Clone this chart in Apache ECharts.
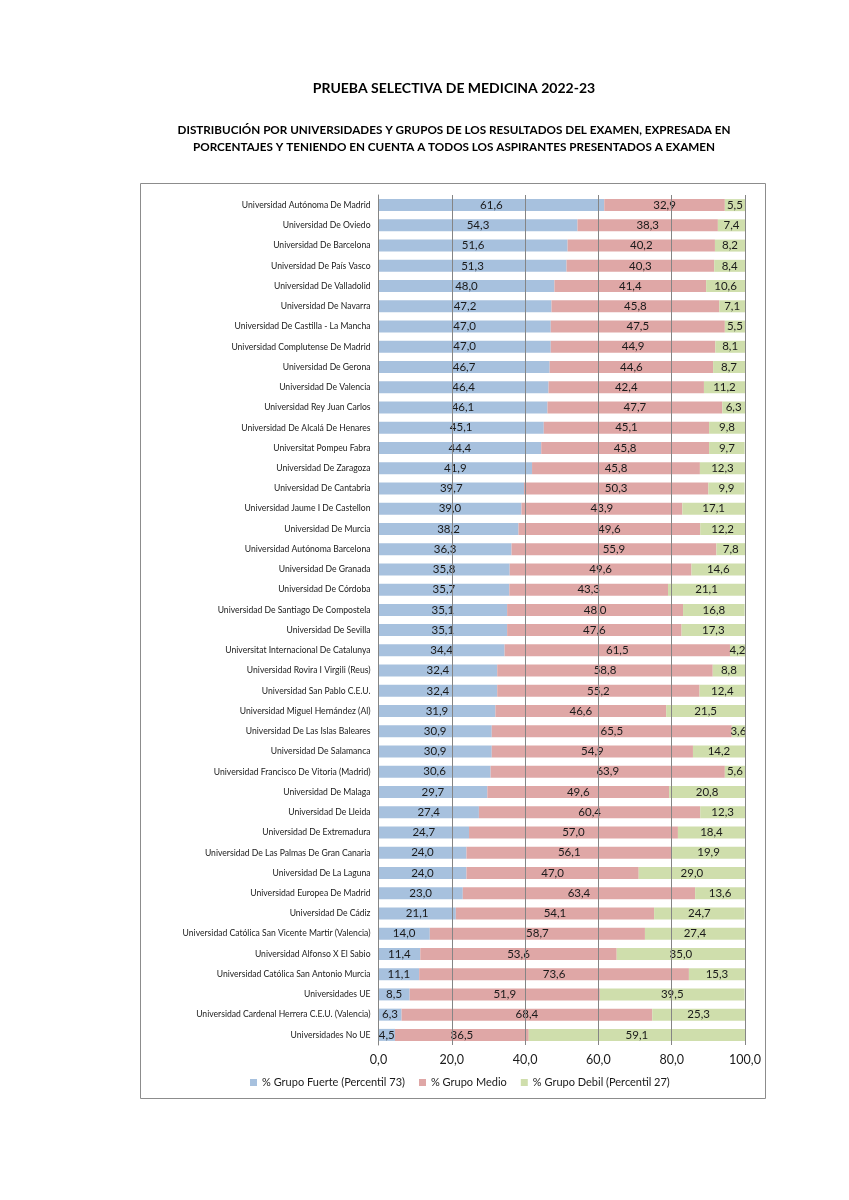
<!DOCTYPE html>
<html>
<head>
<meta charset="utf-8">
<script src="https://cdn.jsdelivr.net/npm/echarts@6/dist/echarts.min.js"></script>
<style>
html,body{margin:0;padding:0;background:#fff;}
#chart{width:849px;height:1200px;}
</style>
</head>
<body>
<div id="chart"></div>
<script>
const universidades = [
"Universidad Autónoma De Madrid","Universidad De Oviedo","Universidad De Barcelona","Universidad De País Vasco",
"Universidad De Valladolid","Universidad De Navarra","Universidad De Castilla - La Mancha","Universidad Complutense De Madrid",
"Universidad De Gerona","Universidad De Valencia","Universidad Rey Juan Carlos","Universidad De Alcalá De Henares",
"Universitat Pompeu Fabra","Universidad De Zaragoza","Universidad De Cantabria","Universidad Jaume I De Castellon",
"Universidad De Murcia","Universidad Autónoma Barcelona","Universidad De Granada","Universidad De Córdoba",
"Universidad De Santiago De Compostela","Universidad De Sevilla","Universitat Internacional De Catalunya","Universidad Rovira I Virgili (Reus)",
"Universidad San Pablo C.E.U.","Universidad Miguel Hernández (Al)","Universidad De Las Islas Baleares","Universidad De Salamanca",
"Universidad Francisco De Vitoria (Madrid)","Universidad De Malaga","Universidad De Lleida","Universidad De Extremadura",
"Universidad De Las Palmas De Gran Canaria","Universidad De La Laguna","Universidad Europea De Madrid","Universidad De Cádiz",
"Universidad Católica San Vicente Martir (Valencia)","Universidad Alfonso X El Sabio","Universidad Católica San Antonio Murcia","Universidades UE",
"Universidad Cardenal Herrera C.E.U. (Valencia)","Universidades No UE"
];
const grupoFuerte = [61.6,54.3,51.6,51.3,48.0,47.2,47.0,47.0,46.7,46.4,46.1,45.1,44.4,41.9,39.7,39.0,38.2,36.3,35.8,35.7,35.1,35.1,34.4,32.4,32.4,31.9,30.9,30.9,30.6,29.7,27.4,24.7,24.0,24.0,23.0,21.1,14.0,11.4,11.1,8.5,6.3,4.5];
const grupoMedio = [32.9,38.3,40.2,40.3,41.4,45.8,47.5,44.9,44.6,42.4,47.7,45.1,45.8,45.8,50.3,43.9,49.6,55.9,49.6,43.3,48.0,47.6,61.5,58.8,55.2,46.6,65.5,54.9,63.9,49.6,60.4,57.0,56.1,47.0,63.4,54.1,58.7,53.6,73.6,51.9,68.4,36.5];
const grupoDebil = [5.5,7.4,8.2,8.4,10.6,7.1,5.5,8.1,8.7,11.2,6.3,9.8,9.7,12.3,9.9,17.1,12.2,7.8,14.6,21.1,16.8,17.3,4.2,8.8,12.4,21.5,3.6,14.2,5.6,20.8,12.3,18.4,19.9,29.0,13.6,24.7,27.4,35.0,15.3,39.5,25.3,59.1];
const seriesNames = ["% Grupo Fuerte (Percentil 73)","% Grupo Medio","% Grupo Debil (Percentil 27)"];
const titulo = "PRUEBA SELECTIVA DE MEDICINA 2022-23";
const subtitulo1 = "DISTRIBUCIÓN POR UNIVERSIDADES Y GRUPOS DE LOS RESULTADOS DEL EXAMEN, EXPRESADA EN";
const subtitulo2 = "PORCENTAJES Y TENIENDO EN CUENTA A TODOS LOS ASPIRANTES PRESENTADOS A EXAMEN";

const FONT = "Lato, 'Liberation Sans', sans-serif";
const fmt = v => (typeof v === 'object' ? v.value : v).toFixed(1).replace('.', ',');
const colors = ['#A7C1DE','#DFA7A6','#CFDEAC'];

const chart = echarts.init(document.getElementById('chart'), null, {renderer:'canvas'});
const mkSeries = (name, data, i) => ({
  name, type:'bar', stack:'total', data, barWidth:12,
  itemStyle:{color:colors[i]},
  label:{show:true, position:'inside', formatter:p=>fmt(p.value), color:'#1a1a1a', fontSize:11.5, fontFamily:FONT},
  z:2
});
const tx = (text, y, size) => ({type:'text', x:454, y, style:{text, fill:'#000', font:'bold '+size+'px '+FONT, textAlign:'center', textVerticalAlign:'middle'}});
chart.setOption({
  animation:false,
  textStyle:{fontFamily:FONT},
  graphic:[
    {type:'rect', shape:{x:140.5,y:183.5,width:625,height:915}, style:{fill:'none', stroke:'#8c8c8c', lineWidth:1}, z:-1},
    tx(titulo, 88, 14), tx(subtitulo1, 130, 11.7), tx(subtitulo2, 147, 11.7)
  ],
  legend:{
    data:seriesNames, top:1072, left:245, itemWidth:7, itemHeight:7, itemGap:14,
    icon:'rect', textStyle:{fontSize:11, color:'#1a1a1a', fontFamily:FONT}
  },
  grid:{left:378.5, right:849-745, top:195, bottom:1200-1045, containLabel:false},
  xAxis:{
    type:'value', min:0, max:100, interval:20, z:5,
    axisLabel:{formatter:v=>fmt(v), fontSize:12.5, color:'#1a1a1a', margin:8, fontFamily:FONT},
    splitLine:{show:true, lineStyle:{color:'#858585', width:1}},
    axisLine:{show:false}, axisTick:{show:false}
  },
  yAxis:{
    type:'category', data:universidades, inverse:true, z:5,
    axisLabel:{fontSize:8.6, color:'#1a1a1a', margin:8, fontFamily:FONT},
    axisLine:{show:true, lineStyle:{color:'#858585'}}, axisTick:{show:false}
  },
  series:[mkSeries(seriesNames[0], grupoFuerte, 0), mkSeries(seriesNames[1], grupoMedio, 1), mkSeries(seriesNames[2], grupoDebil, 2)]
});
</script>
</body>
</html>
